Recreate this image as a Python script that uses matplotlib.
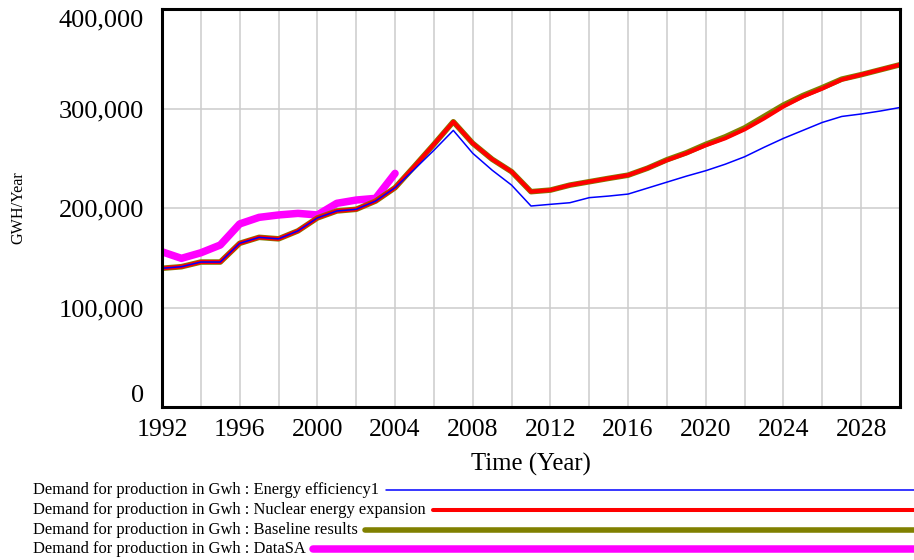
import numpy as np
import matplotlib.pyplot as plt
from matplotlib.lines import Line2D

plt.rcParams['font.family'] = ['Liberation Serif', 'DejaVu Serif']

# data
years = np.arange(1992, 2031)
efficiency = [139.4, 141, 145.7, 145.7, 164.5, 170.5, 169, 177, 190, 197, 198.7, 207, 220.4,
              239, 258, 278, 255, 238, 223, 202, 203.7, 205.3, 210.4, 212, 214, 220, 226,
              232, 237.5, 244, 251.5, 261, 270, 278, 286, 292, 294.5, 297.5, 301]
nuclear = [139.4, 141, 145.7, 145.7, 164.5, 170.5, 169, 177, 190, 197, 198.7, 207, 220.4,
           242, 264, 286.7, 265, 249, 236.5, 216.4, 218, 223, 226.4, 229.8, 233, 240, 248,
           255, 263, 270, 279, 290, 302, 312, 320, 329, 334, 339, 344]
baseline = [139.4, 141, 145.7, 145.7, 164.5, 170.5, 169, 177, 190, 197, 198.7, 207, 220.4,
            242, 264, 286.7, 265, 249, 236.5, 216.4, 218, 223, 226.4, 229.8, 233, 240, 248.5,
            255.5, 264, 271.5, 280.5, 292, 303.5, 313, 321, 329.5, 334, 339, 344]
data_years = np.arange(1992, 2005)
datasa = [156, 149.4, 155, 162.8, 184, 190.6, 193, 194.6, 193, 204.7, 208, 209.7, 234.8]

labels = ["Demand for production in Gwh : Energy efficiency1",
          "Demand for production in Gwh : Nuclear energy expansion",
          "Demand for production in Gwh : Baseline results",
          "Demand for production in Gwh : DataSA"]
colors = ["#0000ff", "#ff0000", "#808000", "#ff00ff"]
widths = [1.1, 2.9, 4.0, 5.4]

fig = plt.figure(figsize=(9.14, 5.6), dpi=100)
ax = fig.add_axes([162 / 914, 1 - 407 / 560, 738 / 914, 398 / 560])

ax.plot(data_years, np.array(datasa) * 1000, color=colors[3], lw=widths[3], zorder=2,
        solid_capstyle='round')
ax.plot(years, np.array(baseline) * 1000, color=colors[2], lw=widths[2], zorder=3)
ax.plot(years, np.array(nuclear) * 1000, color=colors[1], lw=widths[1], zorder=4)
ax.plot(years, np.array(efficiency) * 1000, color=colors[0], lw=widths[0], zorder=5)

ax.set_xlim(1992, 2030)
ax.set_ylim(0, 400000)
ax.set_xticks(np.arange(1992, 2031, 2), minor=True)
ax.set_xticks(np.arange(1992, 2029, 4))
ax.set_yticks(np.arange(0, 400001, 100000))
ax.set_yticklabels(["0", "100,000", "200,000", "300,000", "400,000"])
ytl = ax.get_yticklabels()
ytl[0].set_va('bottom')
ytl[-1].set_va('top')
ax.grid(True, which='both', color='#cccccc', lw=1.1)
ax.tick_params(axis='both', which='both', length=0)
ax.tick_params(axis='y', pad=13, labelsize=19)
ax.tick_params(axis='x', pad=9, labelsize=18.5)
for s in ax.spines.values():
    s.set_linewidth(2.2)
    s.set_color('black')
    s.set_zorder(10)
ax.set_xlabel("Time (Year)", fontsize=17.8, labelpad=8)
fig.text(18 / 914, 1 - 208 / 560, "GWH/Year", rotation=90, fontsize=11.6,
         ha='center', va='center')

# legend rows below the chart
fig.canvas.draw()
renderer = fig.canvas.get_renderer()
row_y = [490, 510, 530, 549]
for lab, c, w, y in zip(labels, colors, widths, row_y):
    t = fig.text(33 / 914, 1 - y / 560, lab, fontsize=11.9, ha='left', va='center')
    bb = t.get_window_extent(renderer)
    x0 = (bb.x1 + 7) / 914
    fig.add_artist(Line2D([x0, 1.0], [1 - y / 560, 1 - y / 560], color=c, lw=w,
                          solid_capstyle='round'))

fig.savefig("out.png", dpi=100)
